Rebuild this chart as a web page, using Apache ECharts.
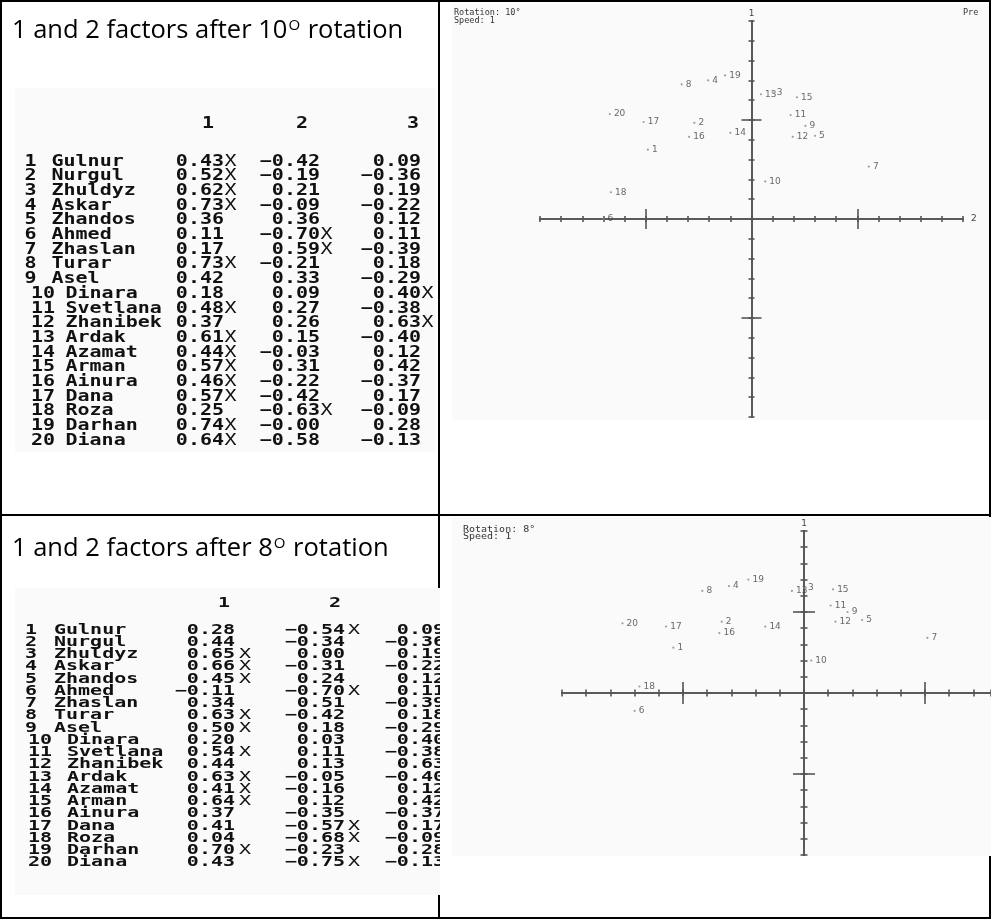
<!DOCTYPE html>
<html><head><meta charset="utf-8">
<script src="https://cdn.jsdelivr.net/npm/echarts@6/dist/echarts.min.js"></script>
<style>html,body{margin:0;padding:0;background:#fff}#c{width:991px;height:920px}</style>
</head><body><div id="c"></div>
<script>
// ---------- data ----------
const names = ['Gulnur','Nurgul','Zhuldyz','Askar','Zhandos','Ahmed','Zhaslan','Turar','Asel','Dinara','Svetlana','Zhanibek','Ardak','Azamat','Arman','Ainura','Dana','Roza','Darhan','Diana'];
const factorHeaders = ['1','2','3'];
// table after 10 deg rotation
const t10F1 = [0.43,0.52,0.62,0.73,0.36,0.11,0.17,0.73,0.42,0.18,0.48,0.37,0.61,0.44,0.57,0.46,0.57,0.25,0.74,0.64];
const t10F2 = [-0.42,-0.19,0.21,-0.09,0.36,-0.70,0.59,-0.21,0.33,0.09,0.27,0.26,0.15,-0.03,0.31,-0.22,-0.42,-0.63,-0,-0.58];
const t10F3 = [0.09,-0.36,0.19,-0.22,0.12,0.11,-0.39,0.18,-0.29,0.40,-0.38,0.63,-0.40,0.12,0.42,-0.37,0.17,-0.09,0.28,-0.13];
const t10X1 = [1,1,1,1,0,0,0,1,0,0,1,0,1,1,1,1,1,0,1,1];
const t10X2 = [0,0,0,0,0,1,1,0,0,0,0,0,0,0,0,0,0,1,0,0];
const t10X3 = [0,0,0,0,0,0,0,0,0,1,0,1,0,0,0,0,0,0,0,0];
// table after 8 deg rotation
const t8F1 = [0.28,0.44,0.65,0.66,0.45,-0.11,0.34,0.63,0.50,0.20,0.54,0.44,0.63,0.41,0.64,0.37,0.41,0.04,0.70,0.43];
const t8F2 = [-0.54,-0.34,0.00,-0.31,0.24,-0.70,0.51,-0.42,0.18,0.03,0.11,0.13,-0.05,-0.16,0.12,-0.35,-0.57,-0.68,-0.23,-0.75];
const t8F3 = [0.09,-0.36,0.19,-0.22,0.12,0.11,-0.39,0.18,-0.29,0.40,-0.38,0.63,-0.40,0.12,0.42,-0.37,0.17,-0.09,0.28,-0.13];
const t8X1 = [0,0,1,1,1,0,0,1,1,0,1,0,1,1,1,0,0,0,1,0];
const t8X2 = [1,0,0,0,0,1,0,0,0,0,0,0,0,0,0,0,1,1,0,1];
// scatter plot (top, "Rotation: 10°"): factor 1 vertical, factor 2 horizontal
const plot10F1 = [0.35,0.485,0.64,0.70,0.42,0.00,0.265,0.68,0.47,0.19,0.525,0.415,0.63,0.435,0.615,0.415,0.49,0.135,0.725,0.53];
const plot10F2 = [-0.49,-0.27,0.10,-0.205,0.30,-0.70,0.555,-0.33,0.255,0.065,0.185,0.195,0.045,-0.10,0.215,-0.295,-0.51,-0.665,-0.125,-0.67];
// scatter plot (bottom, "Rotation: 8°")
const plot8F1 = [0.28,0.44,0.65,0.66,0.45,-0.11,0.34,0.63,0.50,0.20,0.54,0.44,0.63,0.41,0.64,0.37,0.41,0.04,0.70,0.43];
const plot8F2 = [-0.54,-0.34,0.00,-0.31,0.24,-0.70,0.51,-0.42,0.18,0.03,0.11,0.13,-0.05,-0.16,0.12,-0.35,-0.57,-0.68,-0.23,-0.75];

// ---------- helpers ----------
const MONO = 'DejaVu Sans Mono';
function fmt(v){ const neg = v < 0 || Object.is(v,-0); return (neg ? '\u2212' : '') + Math.abs(v).toFixed(2); }
function txt(x, y, text, o){
  o = o || {};
  return {type:'text', x:x, y:y, z:o.z||3, scaleY:o.sy||1, scaleX:o.sx||1, silent:true,
    style:{text:text, fill:o.color||'#111', fontFamily:o.font||MONO, fontSize:o.size||20,
      fontWeight:o.weight||'normal', align:o.align||'left', textAlign:o.align||'left',
      verticalAlign:'middle', textVerticalAlign:'middle', rich:o.rich}};
}
function rect(x,y,w,h,fill,z){ return {type:'rect', z:z, silent:true, shape:{x:x,y:y,width:w,height:h}, style:{fill:fill}}; }
function line(x1,y1,x2,y2,z){ return {type:'line', z:z||20, silent:true, shape:{x1:x1,y1:y1,x2:x2,y2:y2}, style:{stroke:'#000', lineWidth:2}}; }

const g = [];
// backgrounds of embedded pictures
g.push(rect(15,88,421,364,'#fafafa',-1));
g.push(rect(15,588,425,307,'#fafafa',-1));
g.push(rect(452,4,537,416,'#fafafa',-1));
g.push(rect(452,517,539,339,'#fafafa',-1));

// headings
const headRich = {s:{fontSize:15, fontFamily:'Open Sans', verticalAlign:'top', padding:[0,1,11,1]}};
g.push(txt(12,31,'1 and 2 factors after 10{s|O} rotation',{font:'Open Sans',size:25.5,color:'#000',rich:headRich}));
g.push(txt(12,549,'1 and 2 factors after 8{s|O} rotation',{font:'Open Sans',size:25.5,color:'#000',rich:headRich}));

// table 10
(function(){
  const y0=161.5, dy=14.7, sy=0.78, w='bold';
  const hx=[208,302,413];
  factorHeaders.forEach((h,i)=>g.push(txt(hx[i],124,h,{align:'center',sy:sy,weight:w})));
  const cols=[[t10F1,t10X1,224],[t10F2,t10X2,320],[t10F3,t10X3,421]];
  names.forEach((n,i)=>{
    const y=y0+i*dy;
    const two=i>=9;
    g.push(txt(two?31:24.5,y,String(i+1),{sy:sy,weight:w}));
    g.push(txt(two?65.5:51.5,y,n,{sy:sy,weight:w}));
    cols.forEach(c=>{
      g.push(txt(c[2],y,fmt(c[0][i]),{align:'right',sy:sy,weight:w}));
      if(c[1][i]) g.push(txt(c[2]+0.5,y,'X',{sy:sy}));
    });
  });
})();
// table 8
(function(){
  const y0=630, dy=12.26, sy=0.68, w='bold';
  const hx=[224,335,447];
  factorHeaders.forEach((h,i)=>g.push(txt(hx[i],603,h,{align:'center',sy:sy,weight:w})));
  const cols=[[t8F1,t8X1,235,239],[t8F2,t8X2,345,348],[t8F3,null,445,449]];
  names.forEach((n,i)=>{
    const y=y0+i*dy;
    const two=i>=9;
    g.push(txt(two?28:25,y,String(i+1),{sy:sy,weight:w}));
    g.push(txt(two?67:54,y,n,{sy:sy,weight:w}));
    cols.forEach(c=>{
      g.push(txt(c[2],y,fmt(c[0][i]),{align:'right',sy:sy,weight:w}));
      if(c[1] && c[1][i]) g.push(txt(c[3],y,'X',{sy:sy}));
    });
  });
})();
// cover for clipped table column
g.push(rect(440,517,12,400,'#ffffff',10));

// plot captions
g.push(txt(454,13,'Rotation: 10\u00b0',{size:8.5,color:'#333'}));
g.push(txt(454,21,'Speed: 1',{size:8.5,color:'#333'}));
g.push(txt(963,13,'Pre',{size:8.5,color:'#333'}));
g.push(txt(463,530,'Rotation: 8\u00b0',{size:10,color:'#333',sy:0.8}));
g.push(txt(463,537,'Speed: 1',{size:10,color:'#333',sy:0.8}));

// table borders
g.push(line(0,1,991,1));
g.push(line(1,0,1,919));
g.push(line(0,918,991,918));
g.push(line(0,515,452,515));
g.push(line(452,515,991,515));
g.push(line(439,0,439,588));
g.push(line(439,895,439,919));
g.push(line(990,0,990,517));
g.push(line(990,856,990,919));

// ---------- axes (4 overlapping grids per plot: small/big ticks, both sides) ----------
const grids=[], xAxes=[], yAxes=[], series=[];
function addPlot(rc, xMax, xName, smallLen, bigLen, pts){
  const variants=[[smallLen,false,false],[smallLen,true,false],[bigLen,false,true],[bigLen,true,true]];
  let mainIdx=-1;
  variants.forEach((v,k)=>{
    const gi=grids.length;
    grids.push({left:rc[0], top:rc[1], width:rc[2], height:rc[3], show:false, containLabel:false, outerBoundsMode:'none'});
    const tick={show:true, inside:v[1], length:v[0], lineStyle:{color:'#555', width:1.6}};
    if(v[2]) tick.customValues=[-0.5,0.5];
    const base={type:'value', gridIndex:gi, min:-1, max:1, interval:0.1, silent:true,
      axisLabel:{show:false}, splitLine:{show:false},
      axisLine:{show:true, onZero:true, lineStyle:{color:'#5a5a5a', width:2}}, axisTick:tick};
    const main=k===0;
    xAxes.push(Object.assign({}, base, {max:xMax}, (main && xName)?{name:xName, nameLocation:'end', nameGap:8,
      nameTextStyle:{fontFamily:'DejaVu Sans', fontSize:9, color:'#444', align:'left', verticalAlign:'middle'}}:{}));
    yAxes.push(Object.assign({}, base, {axisTick:Object.assign({},tick)}, main?{name:'1', nameLocation:'end', nameGap:7,
      nameTextStyle:{fontFamily:'DejaVu Sans', fontSize:9, color:'#444', align:'center', verticalAlign:'middle'}}:{}));
    if(main) mainIdx=gi;
  });
  series.push({type:'scatter', xAxisIndex:mainIdx, yAxisIndex:mainIdx, symbolSize:2.2, silent:true,
    itemStyle:{color:'#888'}, data:pts,
    label:{show:true, position:'right', distance:3, formatter:p=>p.data[2],
      fontFamily:'DejaVu Sans', fontSize:9, color:'#444'}});
}
addPlot([540,21,423,396], 1, '2', 3, 10, plot10F2.map((x,i)=>[x, plot10F1[i], String(i+1)]));
// bottom picture is cut at the right edge: axis runs from -1 to the page border
addPlot([562,531,429,324], 0.7727, '', 3.5, 11, plot8F2.map((x,i)=>[x, plot8F1[i], String(i+1)]));

const chart = echarts.init(document.getElementById('c'), null, {renderer:'canvas'});
chart.setOption({
  animation:false, backgroundColor:'#ffffff',
  grid:grids, xAxis:xAxes, yAxis:yAxes, series:series,
  graphic:{elements:g}
});
</script></body></html>
